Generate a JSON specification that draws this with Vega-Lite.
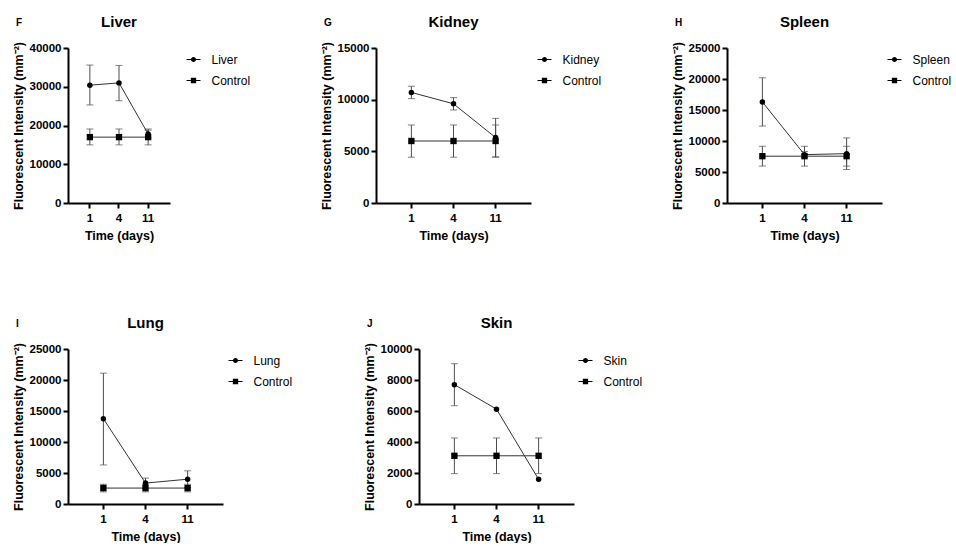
{
  "$schema": "https://vega.github.io/schema/vega-lite/v6.json",
  "background": "white",
  "padding": {"left": 12, "top": 14, "right": 0, "bottom": 0},
  "config": {
    "font": "Liberation Sans",
    "view": {"stroke": null},
    "axis": {"domainColor": "black", "domainWidth": 2, "tickColor": "black", "tickWidth": 2, "tickSize": 5, "labelFont": "Liberation Sans", "labelFontWeight": "bold", "labelFontSize": 11.5, "labelColor": "black", "titleFont": "Liberation Sans", "titleFontWeight": "bold", "titleFontSize": 12.5, "titleColor": "black", "grid": false},
    "legend": {"orient": "right", "padding": 4.5, "labelFont": "Liberation Sans", "labelFontSize": 12, "labelColor": "black", "symbolSize": 196, "rowPadding": 8, "labelOffset": 11, "symbolStrokeWidth": 0, "symbolFillColor": "black", "symbolOpacity": 1},
    "title": {"font": "Liberation Sans", "fontWeight": "bold", "color": "black", "fontSize": 15, "offset": 12}
  },
  "datasets": {
    "d": [
      {"organ": "Liver", "series": "Liver", "day": 1, "mean": 30400, "lo": 25300, "hi": 35600},
      {"organ": "Liver", "series": "Liver", "day": 4, "mean": 31000, "lo": 26400, "hi": 35500},
      {"organ": "Liver", "series": "Liver", "day": 11, "mean": 17800, "lo": 16800, "hi": 18800},
      {"organ": "Liver", "series": "Control", "day": 1, "mean": 17000, "lo": 15000, "hi": 19100},
      {"organ": "Liver", "series": "Control", "day": 4, "mean": 17000, "lo": 15000, "hi": 19100},
      {"organ": "Liver", "series": "Control", "day": 11, "mean": 17000, "lo": 15000, "hi": 19100},
      {"organ": "Kidney", "series": "Kidney", "day": 1, "mean": 10700, "lo": 10100, "hi": 11300},
      {"organ": "Kidney", "series": "Kidney", "day": 4, "mean": 9600, "lo": 9000, "hi": 10200},
      {"organ": "Kidney", "series": "Kidney", "day": 11, "mean": 6330, "lo": 4470, "hi": 8190},
      {"organ": "Kidney", "series": "Control", "day": 1, "mean": 6000, "lo": 4430, "hi": 7550},
      {"organ": "Kidney", "series": "Control", "day": 4, "mean": 6000, "lo": 4430, "hi": 7550},
      {"organ": "Kidney", "series": "Control", "day": 11, "mean": 6000, "lo": 4430, "hi": 7550},
      {"organ": "Spleen", "series": "Spleen", "day": 1, "mean": 16300, "lo": 12400, "hi": 20200},
      {"organ": "Spleen", "series": "Spleen", "day": 4, "mean": 7800, "lo": 7300, "hi": 8300},
      {"organ": "Spleen", "series": "Spleen", "day": 11, "mean": 7960, "lo": 5400, "hi": 10500},
      {"organ": "Spleen", "series": "Control", "day": 1, "mean": 7550, "lo": 5950, "hi": 9150},
      {"organ": "Spleen", "series": "Control", "day": 4, "mean": 7550, "lo": 5950, "hi": 9150},
      {"organ": "Spleen", "series": "Control", "day": 11, "mean": 7550, "lo": 5950, "hi": 9150},
      {"organ": "Lung", "series": "Lung", "day": 1, "mean": 13760, "lo": 6300, "hi": 21100},
      {"organ": "Lung", "series": "Lung", "day": 4, "mean": 3370, "lo": 2560, "hi": 4180},
      {"organ": "Lung", "series": "Lung", "day": 11, "mean": 4000, "lo": 2650, "hi": 5350},
      {"organ": "Lung", "series": "Control", "day": 1, "mean": 2570, "lo": 1960, "hi": 3180},
      {"organ": "Lung", "series": "Control", "day": 4, "mean": 2570, "lo": 1960, "hi": 3180},
      {"organ": "Lung", "series": "Control", "day": 11, "mean": 2570, "lo": 1960, "hi": 3180},
      {"organ": "Skin", "series": "Skin", "day": 1, "mean": 7700, "lo": 6340, "hi": 9050},
      {"organ": "Skin", "series": "Skin", "day": 4, "mean": 6120},
      {"organ": "Skin", "series": "Skin", "day": 11, "mean": 1590},
      {"organ": "Skin", "series": "Control", "day": 1, "mean": 3110, "lo": 1960, "hi": 4260},
      {"organ": "Skin", "series": "Control", "day": 4, "mean": 3110, "lo": 1960, "hi": 4260},
      {"organ": "Skin", "series": "Control", "day": 11, "mean": 3110, "lo": 1960, "hi": 4260}
    ]
  },
  "vconcat": [
    {
      "hconcat": [
        {
          "title": {"text": "F", "fontSize": 10, "anchor": "start", "frame": "bounds", "offset": -13, "dx": 4},
          "vconcat": [{
            "width": 102, "height": 155,
            "title": {"text": "Liver"},
            "data": {"name": "d"},
            "transform": [{"filter": "datum.organ == 'Liver'"}],
            "encoding": {"x": {"field": "day", "type": "ordinal", "sort": [1, 4, 11], "scale": {"padding": 0.5}, "axis": {"title": "Time (days)", "labelAngle": 0, "labelPadding": 4, "titlePadding": 6}}},
            "layer": [
              {"mark": {"type": "rule", "color": "#4d4d4d", "strokeWidth": 1}, "encoding": {"y": {"field": "lo", "type": "quantitative", "scale": {"domain": [0, 40000]}, "axis": {"title": "Fluorescent Intensity (mm⁻²)", "values": [0, 10000, 20000, 30000, 40000], "format": "d", "labelPadding": 2, "titlePadding": 4}}, "y2": {"field": "hi"}}},
              {"mark": {"type": "tick", "orient": "horizontal", "size": 7, "thickness": 1, "color": "#4d4d4d"}, "encoding": {"y": {"field": "lo", "type": "quantitative", "scale": {"domain": [0, 40000]}, "axis": {"title": "Fluorescent Intensity (mm⁻²)", "values": [0, 10000, 20000, 30000, 40000], "format": "d", "labelPadding": 2, "titlePadding": 4}}}},
              {"mark": {"type": "tick", "orient": "horizontal", "size": 7, "thickness": 1, "color": "#4d4d4d"}, "encoding": {"y": {"field": "hi", "type": "quantitative", "scale": {"domain": [0, 40000]}, "axis": {"title": "Fluorescent Intensity (mm⁻²)", "values": [0, 10000, 20000, 30000, 40000], "format": "d", "labelPadding": 2, "titlePadding": 4}}}},
              {"mark": {"type": "line", "color": "#333333", "strokeWidth": 1}, "encoding": {"y": {"field": "mean", "type": "quantitative", "scale": {"domain": [0, 40000]}, "axis": {"title": "Fluorescent Intensity (mm⁻²)", "values": [0, 10000, 20000, 30000, 40000], "format": "d", "labelPadding": 2, "titlePadding": 4}}, "detail": {"field": "series"}}},
              {"transform": [{"filter": "datum.series != 'Control'"}], "mark": {"type": "point", "shape": "circle", "size": 30, "filled": true, "color": "black", "opacity": 1}, "encoding": {"y": {"field": "mean", "type": "quantitative", "scale": {"domain": [0, 40000]}, "axis": {"title": "Fluorescent Intensity (mm⁻²)", "values": [0, 10000, 20000, 30000, 40000], "format": "d", "labelPadding": 2, "titlePadding": 4}}}},
              {"transform": [{"filter": "datum.series == 'Control'"}], "mark": {"type": "point", "shape": "square", "size": 40, "filled": true, "color": "black", "opacity": 1}, "encoding": {"y": {"field": "mean", "type": "quantitative", "scale": {"domain": [0, 40000]}, "axis": {"title": "Fluorescent Intensity (mm⁻²)", "values": [0, 10000, 20000, 30000, 40000], "format": "d", "labelPadding": 2, "titlePadding": 4}}}},
              {"transform": [{"filter": "false"}], "mark": {"type": "point", "filled": true, "color": "black", "opacity": 1}, "encoding": {"y": {"field": "mean", "type": "quantitative", "scale": {"domain": [0, 40000]}, "axis": {"title": "Fluorescent Intensity (mm⁻²)", "values": [0, 10000, 20000, 30000, 40000], "format": "d", "labelPadding": 2, "titlePadding": 4}}, "shape": {"field": "series", "scale": {"domain": ["Liver", "Control"], "range": ["M-1,-0.075H-0.3V0.075H-1ZM0.3,-0.075H1V0.075H0.3ZM0.36,0A0.36,0.36,0,1,1,-0.36,0A0.36,0.36,0,1,1,0.36,0Z", "M-1,-0.075H-0.38V0.075H-1ZM0.38,-0.075H1V0.075H0.38ZM-0.38,-0.38H0.38V0.38H-0.38Z"]}, "legend": {"title": null, "offset": 12, "encode": {"symbols": {"fill": {"value": "black"}, "strokeWidth": {"value": 0}, "opacity": {"value": 1}}}}}}}
            ]
          }],
          "resolve": {"scale": {"shape": "independent"}, "legend": {"shape": "independent"}}
        },
        {
          "title": {"text": "G", "fontSize": 10, "anchor": "start", "frame": "bounds", "offset": -13, "dx": 4},
          "vconcat": [{
            "width": 155, "height": 155,
            "title": {"text": "Kidney"},
            "data": {"name": "d"},
            "transform": [{"filter": "datum.organ == 'Kidney'"}],
            "encoding": {"x": {"field": "day", "type": "ordinal", "sort": [1, 4, 11], "scale": {"padding": 0.68}, "axis": {"title": "Time (days)", "labelAngle": 0, "labelPadding": 4, "titlePadding": 6}}},
            "layer": [
              {"mark": {"type": "rule", "color": "#4d4d4d", "strokeWidth": 1}, "encoding": {"y": {"field": "lo", "type": "quantitative", "scale": {"domain": [0, 15000]}, "axis": {"title": "Fluorescent Intensity (mm⁻²)", "values": [0, 5000, 10000, 15000], "format": "d", "labelPadding": 2, "titlePadding": 4}}, "y2": {"field": "hi"}}},
              {"mark": {"type": "tick", "orient": "horizontal", "size": 7, "thickness": 1, "color": "#4d4d4d"}, "encoding": {"y": {"field": "lo", "type": "quantitative", "scale": {"domain": [0, 15000]}, "axis": {"title": "Fluorescent Intensity (mm⁻²)", "values": [0, 5000, 10000, 15000], "format": "d", "labelPadding": 2, "titlePadding": 4}}}},
              {"mark": {"type": "tick", "orient": "horizontal", "size": 7, "thickness": 1, "color": "#4d4d4d"}, "encoding": {"y": {"field": "hi", "type": "quantitative", "scale": {"domain": [0, 15000]}, "axis": {"title": "Fluorescent Intensity (mm⁻²)", "values": [0, 5000, 10000, 15000], "format": "d", "labelPadding": 2, "titlePadding": 4}}}},
              {"mark": {"type": "line", "color": "#333333", "strokeWidth": 1}, "encoding": {"y": {"field": "mean", "type": "quantitative", "scale": {"domain": [0, 15000]}, "axis": {"title": "Fluorescent Intensity (mm⁻²)", "values": [0, 5000, 10000, 15000], "format": "d", "labelPadding": 2, "titlePadding": 4}}, "detail": {"field": "series"}}},
              {"transform": [{"filter": "datum.series != 'Control'"}], "mark": {"type": "point", "shape": "circle", "size": 30, "filled": true, "color": "black", "opacity": 1}, "encoding": {"y": {"field": "mean", "type": "quantitative", "scale": {"domain": [0, 15000]}, "axis": {"title": "Fluorescent Intensity (mm⁻²)", "values": [0, 5000, 10000, 15000], "format": "d", "labelPadding": 2, "titlePadding": 4}}}},
              {"transform": [{"filter": "datum.series == 'Control'"}], "mark": {"type": "point", "shape": "square", "size": 40, "filled": true, "color": "black", "opacity": 1}, "encoding": {"y": {"field": "mean", "type": "quantitative", "scale": {"domain": [0, 15000]}, "axis": {"title": "Fluorescent Intensity (mm⁻²)", "values": [0, 5000, 10000, 15000], "format": "d", "labelPadding": 2, "titlePadding": 4}}}},
              {"transform": [{"filter": "false"}], "mark": {"type": "point", "filled": true, "color": "black", "opacity": 1}, "encoding": {"y": {"field": "mean", "type": "quantitative", "scale": {"domain": [0, 15000]}, "axis": {"title": "Fluorescent Intensity (mm⁻²)", "values": [0, 5000, 10000, 15000], "format": "d", "labelPadding": 2, "titlePadding": 4}}, "shape": {"field": "series", "scale": {"domain": ["Kidney", "Control"], "range": ["M-1,-0.075H-0.3V0.075H-1ZM0.3,-0.075H1V0.075H0.3ZM0.36,0A0.36,0.36,0,1,1,-0.36,0A0.36,0.36,0,1,1,0.36,0Z", "M-1,-0.075H-0.38V0.075H-1ZM0.38,-0.075H1V0.075H0.38ZM-0.38,-0.38H0.38V0.38H-0.38Z"]}, "legend": {"title": null, "offset": 2, "encode": {"symbols": {"fill": {"value": "black"}, "strokeWidth": {"value": 0}, "opacity": {"value": 1}}}}}}}
            ]
          }],
          "resolve": {"scale": {"shape": "independent"}, "legend": {"shape": "independent"}}
        },
        {
          "title": {"text": "H", "fontSize": 10, "anchor": "start", "frame": "bounds", "offset": -13, "dx": 4},
          "vconcat": [{
            "width": 155, "height": 155,
            "title": {"text": "Spleen"},
            "data": {"name": "d"},
            "transform": [{"filter": "datum.organ == 'Spleen'"}],
            "encoding": {"x": {"field": "day", "type": "ordinal", "sort": [1, 4, 11], "scale": {"padding": 0.68}, "axis": {"title": "Time (days)", "labelAngle": 0, "labelPadding": 4, "titlePadding": 6}}},
            "layer": [
              {"mark": {"type": "rule", "color": "#4d4d4d", "strokeWidth": 1}, "encoding": {"y": {"field": "lo", "type": "quantitative", "scale": {"domain": [0, 25000]}, "axis": {"title": "Fluorescent Intensity (mm⁻²)", "values": [0, 5000, 10000, 15000, 20000, 25000], "format": "d", "labelPadding": 2, "titlePadding": 4}}, "y2": {"field": "hi"}}},
              {"mark": {"type": "tick", "orient": "horizontal", "size": 7, "thickness": 1, "color": "#4d4d4d"}, "encoding": {"y": {"field": "lo", "type": "quantitative", "scale": {"domain": [0, 25000]}, "axis": {"title": "Fluorescent Intensity (mm⁻²)", "values": [0, 5000, 10000, 15000, 20000, 25000], "format": "d", "labelPadding": 2, "titlePadding": 4}}}},
              {"mark": {"type": "tick", "orient": "horizontal", "size": 7, "thickness": 1, "color": "#4d4d4d"}, "encoding": {"y": {"field": "hi", "type": "quantitative", "scale": {"domain": [0, 25000]}, "axis": {"title": "Fluorescent Intensity (mm⁻²)", "values": [0, 5000, 10000, 15000, 20000, 25000], "format": "d", "labelPadding": 2, "titlePadding": 4}}}},
              {"mark": {"type": "line", "color": "#333333", "strokeWidth": 1}, "encoding": {"y": {"field": "mean", "type": "quantitative", "scale": {"domain": [0, 25000]}, "axis": {"title": "Fluorescent Intensity (mm⁻²)", "values": [0, 5000, 10000, 15000, 20000, 25000], "format": "d", "labelPadding": 2, "titlePadding": 4}}, "detail": {"field": "series"}}},
              {"transform": [{"filter": "datum.series != 'Control'"}], "mark": {"type": "point", "shape": "circle", "size": 30, "filled": true, "color": "black", "opacity": 1}, "encoding": {"y": {"field": "mean", "type": "quantitative", "scale": {"domain": [0, 25000]}, "axis": {"title": "Fluorescent Intensity (mm⁻²)", "values": [0, 5000, 10000, 15000, 20000, 25000], "format": "d", "labelPadding": 2, "titlePadding": 4}}}},
              {"transform": [{"filter": "datum.series == 'Control'"}], "mark": {"type": "point", "shape": "square", "size": 40, "filled": true, "color": "black", "opacity": 1}, "encoding": {"y": {"field": "mean", "type": "quantitative", "scale": {"domain": [0, 25000]}, "axis": {"title": "Fluorescent Intensity (mm⁻²)", "values": [0, 5000, 10000, 15000, 20000, 25000], "format": "d", "labelPadding": 2, "titlePadding": 4}}}},
              {"transform": [{"filter": "false"}], "mark": {"type": "point", "filled": true, "color": "black", "opacity": 1}, "encoding": {"y": {"field": "mean", "type": "quantitative", "scale": {"domain": [0, 25000]}, "axis": {"title": "Fluorescent Intensity (mm⁻²)", "values": [0, 5000, 10000, 15000, 20000, 25000], "format": "d", "labelPadding": 2, "titlePadding": 4}}, "shape": {"field": "series", "scale": {"domain": ["Spleen", "Control"], "range": ["M-1,-0.075H-0.3V0.075H-1ZM0.3,-0.075H1V0.075H0.3ZM0.36,0A0.36,0.36,0,1,1,-0.36,0A0.36,0.36,0,1,1,0.36,0Z", "M-1,-0.075H-0.38V0.075H-1ZM0.38,-0.075H1V0.075H0.38ZM-0.38,-0.38H0.38V0.38H-0.38Z"]}, "legend": {"title": null, "offset": 1, "encode": {"symbols": {"fill": {"value": "black"}, "strokeWidth": {"value": 0}, "opacity": {"value": 1}}}}}}}
            ]
          }],
          "resolve": {"scale": {"shape": "independent"}, "legend": {"shape": "independent"}}
        }
      ],
      "spacing": 65,
      "align": "none",
      "resolve": {"scale": {"shape": "independent"}, "legend": {"shape": "independent"}}
    },
    {
      "hconcat": [
        {
          "title": {"text": "I", "fontSize": 10, "anchor": "start", "frame": "bounds", "offset": -13, "dx": 4},
          "vconcat": [{
            "width": 155, "height": 155,
            "title": {"text": "Lung"},
            "data": {"name": "d"},
            "transform": [{"filter": "datum.organ == 'Lung'"}],
            "encoding": {"x": {"field": "day", "type": "ordinal", "sort": [1, 4, 11], "scale": {"padding": 0.68}, "axis": {"title": "Time (days)", "labelAngle": 0, "labelPadding": 4, "titlePadding": 6}}},
            "layer": [
              {"mark": {"type": "rule", "color": "#4d4d4d", "strokeWidth": 1}, "encoding": {"y": {"field": "lo", "type": "quantitative", "scale": {"domain": [0, 25000]}, "axis": {"title": "Fluorescent Intensity (mm⁻²)", "values": [0, 5000, 10000, 15000, 20000, 25000], "format": "d", "labelPadding": 2, "titlePadding": 4}}, "y2": {"field": "hi"}}},
              {"mark": {"type": "tick", "orient": "horizontal", "size": 7, "thickness": 1, "color": "#4d4d4d"}, "encoding": {"y": {"field": "lo", "type": "quantitative", "scale": {"domain": [0, 25000]}, "axis": {"title": "Fluorescent Intensity (mm⁻²)", "values": [0, 5000, 10000, 15000, 20000, 25000], "format": "d", "labelPadding": 2, "titlePadding": 4}}}},
              {"mark": {"type": "tick", "orient": "horizontal", "size": 7, "thickness": 1, "color": "#4d4d4d"}, "encoding": {"y": {"field": "hi", "type": "quantitative", "scale": {"domain": [0, 25000]}, "axis": {"title": "Fluorescent Intensity (mm⁻²)", "values": [0, 5000, 10000, 15000, 20000, 25000], "format": "d", "labelPadding": 2, "titlePadding": 4}}}},
              {"mark": {"type": "line", "color": "#333333", "strokeWidth": 1}, "encoding": {"y": {"field": "mean", "type": "quantitative", "scale": {"domain": [0, 25000]}, "axis": {"title": "Fluorescent Intensity (mm⁻²)", "values": [0, 5000, 10000, 15000, 20000, 25000], "format": "d", "labelPadding": 2, "titlePadding": 4}}, "detail": {"field": "series"}}},
              {"transform": [{"filter": "datum.series != 'Control'"}], "mark": {"type": "point", "shape": "circle", "size": 30, "filled": true, "color": "black", "opacity": 1}, "encoding": {"y": {"field": "mean", "type": "quantitative", "scale": {"domain": [0, 25000]}, "axis": {"title": "Fluorescent Intensity (mm⁻²)", "values": [0, 5000, 10000, 15000, 20000, 25000], "format": "d", "labelPadding": 2, "titlePadding": 4}}}},
              {"transform": [{"filter": "datum.series == 'Control'"}], "mark": {"type": "point", "shape": "square", "size": 40, "filled": true, "color": "black", "opacity": 1}, "encoding": {"y": {"field": "mean", "type": "quantitative", "scale": {"domain": [0, 25000]}, "axis": {"title": "Fluorescent Intensity (mm⁻²)", "values": [0, 5000, 10000, 15000, 20000, 25000], "format": "d", "labelPadding": 2, "titlePadding": 4}}}},
              {"transform": [{"filter": "false"}], "mark": {"type": "point", "filled": true, "color": "black", "opacity": 1}, "encoding": {"y": {"field": "mean", "type": "quantitative", "scale": {"domain": [0, 25000]}, "axis": {"title": "Fluorescent Intensity (mm⁻²)", "values": [0, 5000, 10000, 15000, 20000, 25000], "format": "d", "labelPadding": 2, "titlePadding": 4}}, "shape": {"field": "series", "scale": {"domain": ["Lung", "Control"], "range": ["M-1,-0.075H-0.3V0.075H-1ZM0.3,-0.075H1V0.075H0.3ZM0.36,0A0.36,0.36,0,1,1,-0.36,0A0.36,0.36,0,1,1,0.36,0Z", "M-1,-0.075H-0.38V0.075H-1ZM0.38,-0.075H1V0.075H0.38ZM-0.38,-0.38H0.38V0.38H-0.38Z"]}, "legend": {"title": null, "offset": 1, "encode": {"symbols": {"fill": {"value": "black"}, "strokeWidth": {"value": 0}, "opacity": {"value": 1}}}}}}}
            ]
          }],
          "resolve": {"scale": {"shape": "independent"}, "legend": {"shape": "independent"}}
        },
        {
          "title": {"text": "J", "fontSize": 10, "anchor": "start", "frame": "bounds", "offset": -13, "dx": 4},
          "vconcat": [{
            "width": 155, "height": 155,
            "title": {"text": "Skin"},
            "data": {"name": "d"},
            "transform": [{"filter": "datum.organ == 'Skin'"}],
            "encoding": {"x": {"field": "day", "type": "ordinal", "sort": [1, 4, 11], "scale": {"padding": 0.68}, "axis": {"title": "Time (days)", "labelAngle": 0, "labelPadding": 4, "titlePadding": 6}}},
            "layer": [
              {"mark": {"type": "rule", "color": "#4d4d4d", "strokeWidth": 1}, "encoding": {"y": {"field": "lo", "type": "quantitative", "scale": {"domain": [0, 10000]}, "axis": {"title": "Fluorescent Intensity (mm⁻²)", "values": [0, 2000, 4000, 6000, 8000, 10000], "format": "d", "labelPadding": 2, "titlePadding": 4}}, "y2": {"field": "hi"}}},
              {"mark": {"type": "tick", "orient": "horizontal", "size": 7, "thickness": 1, "color": "#4d4d4d"}, "encoding": {"y": {"field": "lo", "type": "quantitative", "scale": {"domain": [0, 10000]}, "axis": {"title": "Fluorescent Intensity (mm⁻²)", "values": [0, 2000, 4000, 6000, 8000, 10000], "format": "d", "labelPadding": 2, "titlePadding": 4}}}},
              {"mark": {"type": "tick", "orient": "horizontal", "size": 7, "thickness": 1, "color": "#4d4d4d"}, "encoding": {"y": {"field": "hi", "type": "quantitative", "scale": {"domain": [0, 10000]}, "axis": {"title": "Fluorescent Intensity (mm⁻²)", "values": [0, 2000, 4000, 6000, 8000, 10000], "format": "d", "labelPadding": 2, "titlePadding": 4}}}},
              {"mark": {"type": "line", "color": "#333333", "strokeWidth": 1}, "encoding": {"y": {"field": "mean", "type": "quantitative", "scale": {"domain": [0, 10000]}, "axis": {"title": "Fluorescent Intensity (mm⁻²)", "values": [0, 2000, 4000, 6000, 8000, 10000], "format": "d", "labelPadding": 2, "titlePadding": 4}}, "detail": {"field": "series"}}},
              {"transform": [{"filter": "datum.series != 'Control'"}], "mark": {"type": "point", "shape": "circle", "size": 30, "filled": true, "color": "black", "opacity": 1}, "encoding": {"y": {"field": "mean", "type": "quantitative", "scale": {"domain": [0, 10000]}, "axis": {"title": "Fluorescent Intensity (mm⁻²)", "values": [0, 2000, 4000, 6000, 8000, 10000], "format": "d", "labelPadding": 2, "titlePadding": 4}}}},
              {"transform": [{"filter": "datum.series == 'Control'"}], "mark": {"type": "point", "shape": "square", "size": 40, "filled": true, "color": "black", "opacity": 1}, "encoding": {"y": {"field": "mean", "type": "quantitative", "scale": {"domain": [0, 10000]}, "axis": {"title": "Fluorescent Intensity (mm⁻²)", "values": [0, 2000, 4000, 6000, 8000, 10000], "format": "d", "labelPadding": 2, "titlePadding": 4}}}},
              {"transform": [{"filter": "false"}], "mark": {"type": "point", "filled": true, "color": "black", "opacity": 1}, "encoding": {"y": {"field": "mean", "type": "quantitative", "scale": {"domain": [0, 10000]}, "axis": {"title": "Fluorescent Intensity (mm⁻²)", "values": [0, 2000, 4000, 6000, 8000, 10000], "format": "d", "labelPadding": 2, "titlePadding": 4}}, "shape": {"field": "series", "scale": {"domain": ["Skin", "Control"], "range": ["M-1,-0.075H-0.3V0.075H-1ZM0.3,-0.075H1V0.075H0.3ZM0.36,0A0.36,0.36,0,1,1,-0.36,0A0.36,0.36,0,1,1,0.36,0Z", "M-1,-0.075H-0.38V0.075H-1ZM0.38,-0.075H1V0.075H0.38ZM-0.38,-0.38H0.38V0.38H-0.38Z"]}, "legend": {"title": null, "offset": 0, "encode": {"symbols": {"fill": {"value": "black"}, "strokeWidth": {"value": 0}, "opacity": {"value": 1}}}}}}}
            ]
          }],
          "resolve": {"scale": {"shape": "independent"}, "legend": {"shape": "independent"}}
        }
      ],
      "spacing": 66,
      "align": "none",
      "resolve": {"scale": {"shape": "independent"}, "legend": {"shape": "independent"}}
    }
  ],
  "spacing": 73,
  "align": "none",
  "resolve": {"scale": {"shape": "independent"}, "legend": {"shape": "independent"}}
}
